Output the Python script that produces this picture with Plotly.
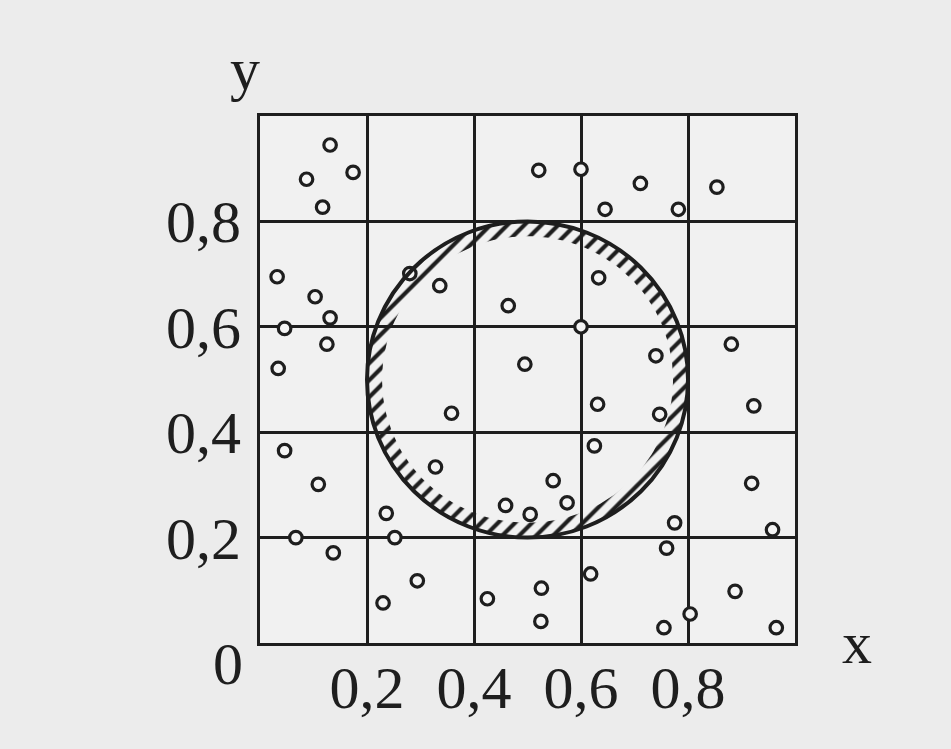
import numpy as np
import plotly.graph_objects as go

# random points
x_points = [0.131, 0.174, 0.087, 0.117, 0.521, 0.600, 0.645, 0.711, 0.782, 0.854,
            0.032, 0.103, 0.131, 0.046, 0.125, 0.280, 0.336, 0.464, 0.633, 0.600,
            0.495, 0.034, 0.740, 0.881, 0.358, 0.631, 0.747, 0.923, 0.046, 0.109,
            0.236, 0.252, 0.067, 0.137, 0.328, 0.459, 0.505, 0.548, 0.574, 0.625,
            0.919, 0.775, 0.958, 0.760, 0.294, 0.230, 0.425, 0.526, 0.525, 0.618,
            0.888, 0.804, 0.755, 0.965]
y_points = [0.945, 0.893, 0.880, 0.827, 0.897, 0.899, 0.823, 0.872, 0.823, 0.865,
            0.695, 0.657, 0.617, 0.597, 0.567, 0.701, 0.678, 0.640, 0.693, 0.600,
            0.529, 0.521, 0.545, 0.567, 0.436, 0.453, 0.434, 0.450, 0.365, 0.301,
            0.246, 0.200, 0.200, 0.171, 0.334, 0.261, 0.244, 0.308, 0.266, 0.374,
            0.303, 0.228, 0.215, 0.180, 0.118, 0.076, 0.084, 0.104, 0.041, 0.131,
            0.098, 0.055, 0.029, 0.029]

grid_ticks = [0.2, 0.4, 0.6, 0.8]
circle_cx, circle_cy = 0.5, 0.5
circle_r = 0.3
hatch_r = 0.272

INK = "#1e1e1e"
PAPER = "#ececec"
FONT = "Liberation Serif, Times New Roman, serif"

# ring just inside the circle, filled with hatching
theta = np.linspace(0, 2 * np.pi, 241)
ring_x = np.concatenate([circle_cx + circle_r * np.cos(theta),
                         circle_cx + hatch_r * np.cos(theta[::-1])])
ring_y = np.concatenate([circle_cy + circle_r * np.sin(theta),
                         circle_cy + hatch_r * np.sin(theta[::-1])])

fig = go.Figure([
    go.Scatter(
        x=ring_x, y=ring_y,
        mode="lines",
        line=dict(width=0),
        fill="toself",
        fillcolor="rgba(0,0,0,0)",
        fillpattern=dict(shape="/", fgcolor=INK, fgopacity=1,
                         bgcolor="rgba(0,0,0,0)", size=12, solidity=0.35),
        hoverinfo="skip",
        showlegend=False,
    ),
    go.Scatter(
        x=x_points, y=y_points,
        mode="markers",
        marker=dict(symbol="circle", size=12.5, color="#f4f4f4",
                    line=dict(color=INK, width=3.2)),
        showlegend=False,
    ),
])

fig.add_shape(
    type="circle",
    x0=circle_cx - circle_r, x1=circle_cx + circle_r,
    y0=circle_cy - circle_r, y1=circle_cy + circle_r,
    line=dict(color=INK, width=4),
    layer="above",
)

axis_style = dict(
    range=[0, 1],
    tickvals=grid_ticks,
    tickformat=".1f",
    showgrid=True,
    gridcolor=INK,
    gridwidth=3,
    zeroline=False,
    showline=True,
    linecolor=INK,
    linewidth=3,
    mirror=True,
    ticks="outside",
    tickcolor="rgba(0,0,0,0)",
    tickfont=dict(family=FONT, size=60, color=INK),
    fixedrange=True,
)

fig.update_layout(
    width=951,
    height=749,
    margin=dict(l=260, r=156, t=116, b=106),
    paper_bgcolor=PAPER,
    plot_bgcolor="#f1f1f1",
    separators=", ",
    xaxis=dict(axis_style, ticklen=0, ticklabelstandoff=-10),
    yaxis=dict(axis_style, ticklen=4),
    font=dict(family=FONT, color=INK),
)

label_font = dict(family=FONT, size=60, color=INK)
fig.add_annotation(text="y", xref="paper", yref="paper", x=-0.028, y=1.09,
                   xanchor="center", yanchor="middle",
                   showarrow=False, font=label_font)
fig.add_annotation(text="x", xref="paper", yref="paper", x=1.116, y=0.0,
                   xanchor="center", yanchor="middle",
                   showarrow=False, font=label_font)
fig.add_annotation(text="0", xref="paper", yref="paper", x=-0.06, y=-0.04,
                   xanchor="center", yanchor="middle",
                   showarrow=False, font=label_font)

fig.write_html("out.html", config={"displayModeBar": False},
               post_script="document.body.style.margin='0';")
